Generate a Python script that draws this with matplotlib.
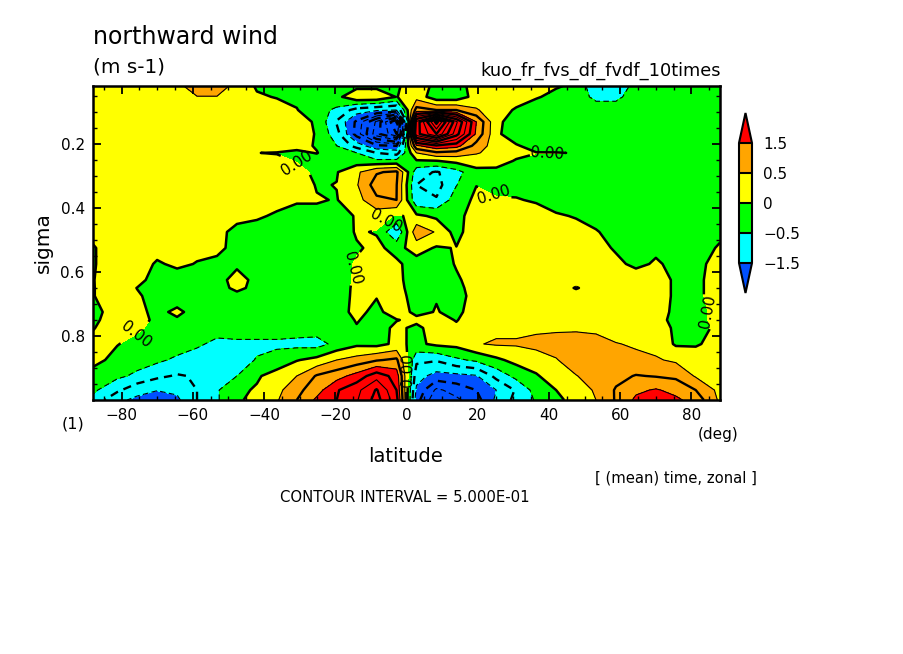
import numpy as np
import matplotlib
matplotlib.use("Agg")
import matplotlib.pyplot as plt
from matplotlib.colors import ListedColormap, BoundaryNorm

lat = [-88, -81.2, -75.6, -70, -64.4, -58.8, -53.2, -47.6, -42, -36.4, -30.8, -25.2, -19.6, -14, -8.4, -2.8,
       2.8, 8.4, 14, 19.6, 25.2, 30.8, 36.4, 42, 47.6, 53.2, 58.8, 64.4, 70, 75.6, 81.2, 88]
sigma = [.019, .053, .094, .131, .169, .206, .228, .253, .288, .328, .375, .425, .475, .525, .575, .625, .65,
         .675, .725, .75, .775, .825, .875, .925, .969, 1.0]

# northward wind, one row per sigma level
wind = [
    [.3,.3,.3,.3,.35,.8,.8,.3,-.05,-.1,-.1,-.1,-.1,-.15,-.15,-.05,.2,-.1,-.1,.1,.2,.2,.2,.05,-.1,-.9,-.9,-.3,-.2,-.15,-.1,-.1],
    [.3,.3,.3,.3,.3,.48,.48,.25,.05,-.02,-.1,-.12,-.15,.4,.4,-.02,.3,-.3,-.3,.2,.2,.2,.05,-.15,-.3,-.6,-.6,-.3,-.2,-.15,-.15,-.15],
    [.3,.3,.3,.3,.3,.3,.3,.3,.25,.15,.02,-.3,-.6,-1.2,-1.4,-1.5,1.2,1,1,.55,.2,-.05,-.3,-.3,-.3,-.3,-.3,-.25,-.2,-.2,-.2,-.15],
    [.3,.3,.3,.3,.3,.3,.3,.3,.25,.2,.15,-.05,-1.05,-2.1,-3.6,-5.6,3.6,6.2,3.6,1.5,.1,-.2,-.3,-.3,-.3,-.3,-.3,-.25,-.2,-.2,-.2,-.15],
    [.3,.3,.3,.3,.3,.3,.3,.3,.25,.25,.2,-.03,-.8,-2.2,-3.8,-5,3.8,5,3.2,1.4,.1,-.3,-.3,-.3,-.3,-.3,-.3,-.25,-.2,-.2,-.2,-.15],
    [.3,.3,.3,.3,.3,.3,.3,.3,.25,.25,.15,-.04,-.5,-1.2,-1.9,-2,1.4,1.9,1.7,.8,.25,.05,-.2,-.25,-.25,-.3,-.3,-.25,-.2,-.2,-.2,-.15],
    [.3,.3,.3,.3,.3,.3,.3,.25,.005,-.02,-.1,.02,-.3,-.5,-1,-1.2,.5,.9,.8,.55,.3,.1,.02,.02,-.02,-.3,-.3,-.25,-.2,-.2,-.2,-.15],
    [.3,.3,.3,.3,.3,.3,.3,.3,.3,.1,-.02,-.2,-.2,-.25,-.4,-.35,-.05,-.02,.15,.2,.15,-.03,-.2,-.25,-.25,-.3,-.3,-.25,-.2,-.2,-.2,-.15],
    [.3,.3,.3,.3,.3,.3,.3,.3,.3,.2,.12,-.08,-.03,.4,.95,1.1,-.8,-1.05,-.7,-.12,-.1,-.15,-.2,-.25,-.25,-.3,-.3,-.25,-.2,-.2,-.2,-.15],
    [.3,.3,.3,.3,.3,.3,.3,.3,.3,.28,.25,-.03,.01,.45,1.25,1.02,-1,-1.2,-.52,-.01,-.1,-.15,-.2,-.25,-.25,-.3,-.3,-.25,-.2,-.2,-.2,-.15],
    [.3,.3,.3,.3,.3,.3,.3,.3,.2,.12,.03,.03,-.02,.3,.9,1,-.9,-.95,-.25,.1,.03,.03,-.05,-.2,-.25,-.3,-.3,-.25,-.2,-.2,-.2,-.15],
    [.3,.3,.3,.3,.3,.3,.3,.1,.05,-.05,-.1,-.1,-.1,.02,.2,-.05,.1,-.1,-.1,.15,.2,.3,.2,.05,-.03,-.1,-.3,-.25,-.2,-.2,-.2,-.15],
    [.1,.3,.3,.3,.3,.3,.1,-.1,-.15,-.15,-.15,-.15,-.3,.05,-.03,-1,.85,.45,-.2,.4,.3,.3,.3,.25,.15,.02,-.1,-.2,-.2,-.2,-.2,-.1],
    [-.03,.2,.3,.15,.3,.1,.15,-.2,-.2,-.2,-.2,-.2,-.2,-.05,.1,-.15,.2,-.05,.02,.3,.35,.35,.35,.35,.35,.15,-.05,-.2,-.08,-.2,-.2,.05],
    [-.03,.2,.2,-.05,.08,-.02,-.15,-.1,-.2,-.2,-.2,-.2,-.2,.05,.15,.08,-.2,-.2,.03,.3,.35,.35,.35,.35,.35,.3,.1,-.1,.05,-.1,-.15,.2],
    [-.02,.3,.15,-.2,-.2,-.2,-.2,.2,-.15,-.2,-.2,-.2,-.15,.05,.2,.1,-.2,-.2,-.05,.15,.3,.3,.35,.35,.3,.3,.25,.25,.15,-.05,-.1,.2],
    [-.02,.25,-.01,-.18,-.2,-.2,-.2,.12,-.15,-.2,-.2,-.2,-.18,.08,.12,.1,-.15,-.15,-.08,.12,.3,.3,.35,.35,-.05,.3,.25,.25,.15,-.05,-.1,.2],
    [-.02,.25,.05,-.15,-.2,-.2,-.2,-.15,-.2,-.2,-.2,-.2,-.2,.1,.02,.1,-.1,-.02,-.1,.1,.35,.35,.35,.35,.3,.3,.25,.25,.15,-.05,-.1,.2],
    [-.1,.15,.1,-.1,.08,-.15,-.2,-.2,-.2,-.2,-.2,-.2,-.15,.1,-.1,.2,-.1,.02,-.1,.2,.3,.3,.3,.3,.3,.3,.25,.2,.1,-.05,-.2,.2],
    [-.08,.2,.2,-.12,-.05,-.15,-.2,-.2,-.2,-.2,-.2,-.2,-.15,.02,-.1,-.02,.1,.2,-.03,.3,.3,.3,.3,.3,.3,.3,.25,.2,.1,-.08,-.2,.2],
    [-.02,.2,.08,-.15,-.2,-.2,-.25,-.25,-.25,-.25,-.25,-.25,-.15,-.02,-.2,.1,-.1,.2,.1,.3,.4,.4,.4,.42,.42,.38,.3,.25,.15,-.05,-.15,.1],
    [.1,.02,-.15,-.2,-.25,-.4,-.65,-.6,-.6,-.6,-.65,-.7,-.35,-.1,-.15,.1,-.1,.1,.15,.47,.55,.55,.65,.7,.75,.7,.52,.45,.35,-.06,-.06,.2],
    [.15,-.15,-.3,-.4,-.6,-.8,-.85,-.7,-.47,-.3,-.03,.15,.5,.7,.95,1.1,-.9,-.95,-.6,-.4,-.1,.15,.25,.47,.75,.85,.75,.6,.55,.42,.3,.25],
    [-.2,-.4,-.6,-.9,-1.05,-.95,-.75,-.5,-.06,.2,.5,1.05,1.3,1.7,2.3,1.8,-1.3,-1.7,-1.65,-1.55,-.85,-.35,-.05,.25,.48,.7,.85,1.03,.97,.9,.45,.3],
    [-.4,-.9,-1.35,-1.48,-1.4,-1,-.55,-.1,.05,.35,.85,1.3,1.95,2.35,3.05,2,-1.6,-2.6,-2.3,-2,-1.5,-.95,-.3,0,.3,.55,1.05,1.4,1.55,1.35,1,.35],
    [-.65,-1.4,-1.6,-1.8,-1.6,-1,-.55,-.1,.2,.45,1,1.6,2,2.45,3.2,2.2,-1.8,-2.9,-2.6,-2.2,-1.4,-.85,-.45,-.1,.15,.5,1.05,1.6,1.7,1.6,1.3,.4],
]

fill_levels = [-1.5, -0.5, 0, 0.5, 1.5]
fill_colors = ["#0050ff", "#00ffff", "#00ff00", "#ffff00", "#ffa500", "#ff0000"]
bar_labels = ["\u22121.5", "\u22120.5", "0", "0.5", "1.5"]
lat_ticks = [-80, -60, -40, -20, 0, 20, 40, 60, 80]
sigma_ticks = [0.2, 0.4, 0.6, 0.8]
# lat, sigma of the places the zero contour gets its label
label_spots = [(-31.2, .266), (39.6, .234), (25, .35), (-5, .45), (-14.3, .5875), (-75.8, .797), (0, .906), (84.3, .725)]

W, H = 904, 654
fig = plt.figure(figsize=(W / 100, H / 100), dpi=100)
ax = fig.add_axes([93 / W, (H - 400) / H, 627 / W, 314 / H])

cmap = ListedColormap(fill_colors[1:-1])
cmap.set_under(fill_colors[0])
cmap.set_over(fill_colors[-1])
norm = BoundaryNorm(fill_levels, cmap.N)

cf = ax.contourf(lat, sigma, wind, levels=fill_levels, cmap=cmap, norm=norm, extend="both")

pos_levels = list(np.arange(0.5, 7.0, 1.0))
pos_major = list(np.arange(1.0, 7.0, 1.0))
neg_levels = list(np.arange(-6.5, 0, 1.0))
neg_major = list(np.arange(-6.0, 0, 1.0))
ax.contour(lat, sigma, wind, levels=pos_levels, colors="k", linewidths=0.8, linestyles="solid")
ax.contour(lat, sigma, wind, levels=pos_major, colors="k", linewidths=1.7, linestyles="solid")
ax.contour(lat, sigma, wind, levels=neg_levels, colors="k", linewidths=0.8, linestyles=[(0, (5, 3))])
ax.contour(lat, sigma, wind, levels=neg_major, colors="k", linewidths=1.7, linestyles=[(0, (3.5, 2.5))])
zero = ax.contour(lat, sigma, wind, levels=[0], colors="k", linewidths=1.8, linestyles="solid")
ax.clabel(zero, fmt="%.2f", fontsize=11, inline=True, inline_spacing=1, manual=label_spots)

ax.set_xlim(-88, 88)
ax.set_ylim(1.0, .019)
ax.set_xticks(lat_ticks)
ax.set_xticklabels([str(t).replace("-", "\u2212") for t in lat_ticks])
ax.set_xticks(np.arange(-85, 86, 5), minor=True)
ax.set_yticks(sigma_ticks)
ax.set_yticks(np.arange(0.05, 1.0, 0.05), minor=True)
ax.tick_params(which="major", direction="in", length=6, width=1.3, top=True, right=True, labelsize=11, pad=6)
ax.tick_params(which="minor", direction="in", length=3, width=1, top=True, right=True)
for s in ax.spines.values():
    s.set_linewidth(1.8)

# colour bar with the triangles on both ends
cax = fig.add_axes([739 / W, (H - 293) / H, 13 / W, 180 / H])
cb = fig.colorbar(cf, cax=cax, extend="both", extendfrac=0.25, spacing="uniform", drawedges=True)
cb.set_ticks(fill_levels)
cb.set_ticklabels(bar_labels)
cb.ax.tick_params(length=0, labelsize=11, pad=8)
cb.outline.set_linewidth(1.5)
cb.dividers.set_linewidth(1.5)
cb.dividers.set_color("k")


def put(px, py, s, **kw):
    fig.text(px / W, 1 - py / H, s, va="center", **kw)


put(93, 37, "northward wind", fontsize=17, ha="left")
put(93, 67, "(m s-1)", fontsize=17 * 0.85, ha="left")
put(721, 71, "kuo_fr_fvs_df_fvdf_10times", fontsize=12.8, ha="right")
put(73, 424, "(1)", fontsize=11.5, ha="center")
put(718, 434, "(deg)", fontsize=11, ha="center")
put(43, 243, "sigma", fontsize=14.5, ha="center", rotation=90)
put(406, 457, "latitude", fontsize=14, ha="center")
put(676, 478, "[ (mean) time, zonal ]", fontsize=10.6, ha="center")
put(405, 497, "CONTOUR INTERVAL = 5.000E-01", fontsize=10.7, ha="center")

fig.savefig("out.png", dpi=100)
